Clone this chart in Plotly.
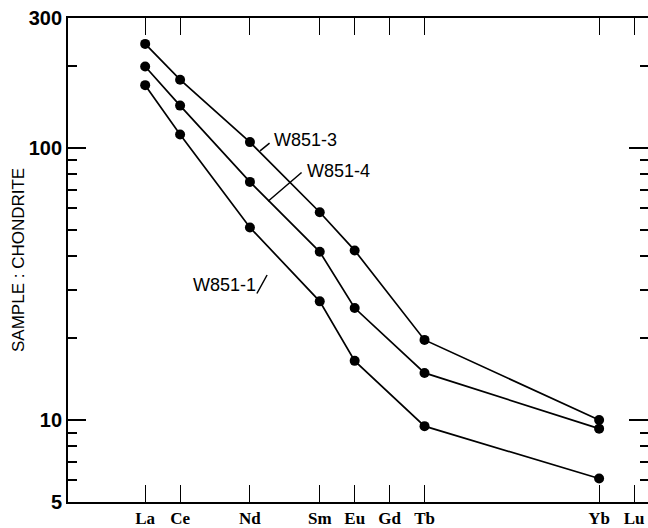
import plotly.graph_objects as go
import numpy as np

# Rare-earth elements and their atomic numbers (x placement)
elements = ["La", "Ce", "Nd", "Sm", "Eu", "Gd", "Tb", "Yb", "Lu"]
atomic_numbers = [57, 58, 60, 62, 63, 64, 65, 70, 71]

# Chondrite-normalised abundances
plot_elements = ["La", "Ce", "Nd", "Sm", "Eu", "Tb", "Yb"]
plot_z = [57, 58, 60, 62, 63, 65, 70]
w851_3 = [241, 178, 105, 58, 42, 19.7, 10.0]
w851_4 = [199, 143, 75, 41.5, 25.8, 14.9, 9.3]
w851_1 = [170, 112, 51, 27.3, 16.5, 9.5, 6.1]

y_major = [5, 10, 100, 300]
y_major_text = ["5", "10", "100", "300"]
y_minor = [6, 7, 8, 9, 20, 30, 40, 50, 60, 70, 80, 90, 200]

fig = go.Figure()
for name, vals in [("W851-3", w851_3), ("W851-4", w851_4), ("W851-1", w851_1)]:
    fig.add_trace(go.Scatter(
        x=plot_z, y=vals, mode="lines+markers", name=name,
        line=dict(color="black", width=1.7),
        marker=dict(color="black", size=10),
        showlegend=False,
    ))
# helper trace for the right-hand tick axis
fig.add_trace(go.Scatter(x=plot_z, y=w851_1, yaxis="y2", mode="lines",
                         line=dict(color="rgba(0,0,0,0)"), showlegend=False,
                         hoverinfo="skip"))

xr = [54.79, 71.40]
yr = [np.log10(5), np.log10(300)]

fig.update_layout(
    width=648, height=528,
    margin=dict(l=68, r=0, t=18, b=21),
    plot_bgcolor="white", paper_bgcolor="white",
    xaxis=dict(
        range=xr, tickmode="array", tickvals=atomic_numbers, ticktext=elements,
        ticks="inside", ticklen=17, tickwidth=1.3, tickcolor="black",
        showline=True, linecolor="black", linewidth=1.8, mirror="ticks",
        showgrid=False, zeroline=False, ticklabeloverflow="allow",
        tickfont=dict(family="Liberation Serif", size=17, color="black", weight="bold"),
    ),
    yaxis=dict(
        type="log", range=yr, tickmode="array", tickvals=y_major, ticktext=y_major_text,
        ticks="inside", ticklen=18, tickwidth=1.5, tickcolor="black",
        minor=dict(tickmode="array", tickvals=y_minor, ticks="inside", ticklen=9,
                   tickwidth=1.5, tickcolor="black", showgrid=False),
        showline=True, linecolor="black", linewidth=1.8,
        showgrid=False, zeroline=False, ticklabeloverflow="allow",
        tickfont=dict(family="Liberation Sans", size=20, color="black", weight="bold"),
    ),
    yaxis2=dict(
        type="log", range=yr, overlaying="y", side="right", tickmode="array",
        tickvals=y_major, ticks="inside", ticklen=19, tickwidth=1.5, tickcolor="black",
        minor=dict(tickmode="array", tickvals=y_minor, ticks="inside", ticklen=8,
                   tickwidth=1.5, tickcolor="black", showgrid=False),
        showticklabels=False, showline=False, showgrid=False, zeroline=False,
    ),
)

lab_font = dict(family="Liberation Sans", size=18, color="black")
fig.add_annotation(x=60.63, y=2.029, xref="x", yref="y", text="W851-3", showarrow=False,
                   xanchor="left", yanchor="middle", font=lab_font)
fig.add_annotation(x=61.58, y=1.916, xref="x", yref="y", text="W851-4", showarrow=False,
                   xanchor="left", yanchor="middle", font=lab_font)
fig.add_annotation(x=60.23, y=1.498, xref="x", yref="y", text="W851-1", showarrow=False,
                   xanchor="right", yanchor="middle", font=lab_font)

# leader lines (arrow-less annotation arrows)
for (lx, ly, dx, dy) in [(60.29, 1.989, 11, -9), (60.52, 1.804, 35, -30), (60.20, 1.465, 11, -20)]:
    fig.add_annotation(x=lx, y=ly, xref="x", yref="y", text="", showarrow=True,
                       arrowhead=0, arrowwidth=1.5, arrowcolor="black",
                       ax=dx, ay=dy, standoff=0, startstandoff=0)

fig.add_annotation(x=-0.0862, y=0.50, xref="paper", yref="paper", text="SAMPLE : CHONDRITE",
                   showarrow=False, textangle=-90, xanchor="center", yanchor="middle",
                   font=dict(family="Liberation Sans", size=17, color="black"))

fig.write_html(
    "out.html",
    config={"displayModeBar": False},
    post_script=("document.body.style.margin='0';"
                 "document.body.style.overflow='hidden';"
                 "document.documentElement.style.overflow='hidden';"),
)
